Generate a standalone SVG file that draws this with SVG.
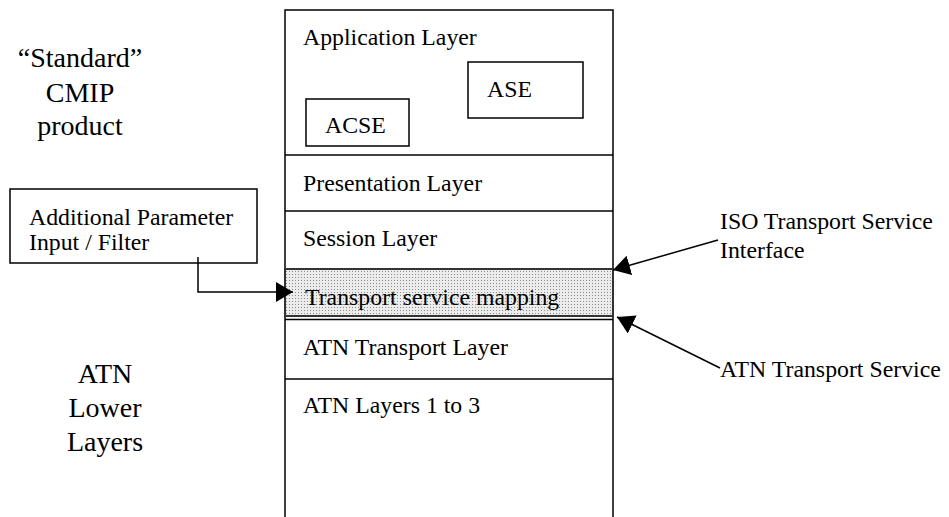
<svg xmlns="http://www.w3.org/2000/svg" width="949" height="517" viewBox="0 0 949 517">
<defs>
<style>
text{font-family:"Liberation Serif","Times New Roman",serif;fill:#000}
.t{font-size:23.8px}
.big{font-size:28px;text-anchor:middle}
.box{fill:#fff;stroke:#000;stroke-width:1.5}
.ln{stroke:#000;stroke-width:1.5;fill:none}
.conn{stroke:#000;stroke-width:1.5;fill:none}
</style>
<pattern id="dots" width="3" height="3" patternUnits="userSpaceOnUse">
<rect width="3" height="3" fill="#ececec"/>
<rect x="1" y="1" width="1" height="1" fill="#8a8a8a"/>
</pattern>
<marker id="ah" markerUnits="userSpaceOnUse" markerWidth="18" markerHeight="20" refX="17" refY="10" orient="auto" viewBox="0 0 18 20">
<path d="M0,0 L17,10 L0,20 Z" fill="#000"/>
</marker>
</defs>
<rect width="949" height="517" fill="#fff"/>

<g id="stack">
<path class="ln" d="M285,530 V10 H613 V530"/>
</g>

<g id="application-layer">
<text class="t" x="303" y="45">Application Layer</text>
</g>
<g id="ase">
<rect class="box" x="468" y="62" width="115" height="56"/>
<text class="t" x="487" y="97">ASE</text>
</g>
<g id="acse">
<rect class="box" x="306" y="99" width="103" height="47"/>
<text class="t" x="325" y="133">ACSE</text>
</g>
<g id="presentation-layer">
<line class="ln" x1="285" y1="155" x2="613" y2="155"/>
<text class="t" x="303" y="191">Presentation Layer</text>
</g>
<g id="session-layer">
<line class="ln" x1="285" y1="211" x2="613" y2="211"/>
<text class="t" x="303" y="246">Session Layer</text>
</g>
<g id="transport-service-mapping">
<rect x="285" y="269" width="328" height="47" fill="url(#dots)" stroke="#333" stroke-width="2"/>
<text class="t" x="305" y="305">Transport service mapping</text>
</g>
<g id="atn-transport-layer">
<line class="ln" x1="285" y1="319.5" x2="613" y2="319.5"/>
<text class="t" x="303" y="355">ATN Transport Layer</text>
</g>
<g id="atn-layers-1-3">
<line class="ln" x1="285" y1="379" x2="613" y2="379"/>
<text class="t" x="303" y="413">ATN Layers 1 to 3</text>
</g>

<g id="standard-cmip">
<text class="big" x="80" y="67">“Standard”</text>
<text class="big" x="80" y="102">CMIP</text>
<text class="big" x="80" y="135">product</text>
</g>
<g id="atn-lower-layers">
<text class="big" x="105" y="383">ATN</text>
<text class="big" x="105" y="417">Lower</text>
<text class="big" x="105" y="451">Layers</text>
</g>

<g id="additional-parameter">
<rect class="box" x="10" y="189" width="247" height="74"/>
<text class="t" x="29" y="225">Additional Parameter</text>
<text class="t" x="29" y="250">Input / Filter</text>
</g>

<g id="iso-ts-interface">
<text class="t" x="720" y="229">ISO Transport Service</text>
<text class="t" x="720" y="258">Interface</text>
</g>
<g id="atn-transport-service">
<text class="t" x="720" y="377">ATN Transport Service</text>
</g>

<g id="connectors">
<path class="conn" d="M198,257 V292 H293" marker-end="url(#ah)"/>
<path class="conn" d="M718,240 L613,270" marker-end="url(#ah)"/>
<path class="conn" d="M720,368 L617,317" marker-end="url(#ah)"/>
</g>
</svg>
